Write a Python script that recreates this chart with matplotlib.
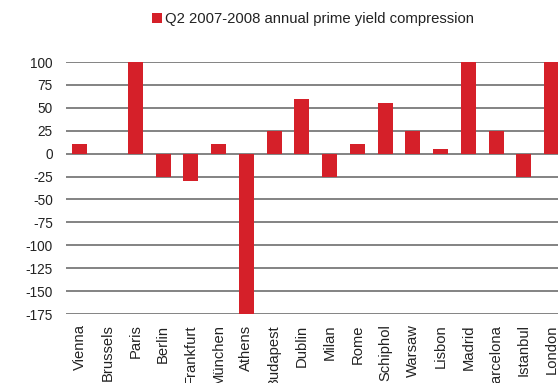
import matplotlib.pyplot as plt
import numpy as np

plt.rcParams['font.family'] = ['Liberation Sans', 'DejaVu Sans']
plt.rcParams['axes.unicode_minus'] = False

cities = ['Vienna', 'Brussels', 'Paris', 'Berlin', 'Frankfurt', 'München', 'Athens',
          'Budapest', 'Dublin', 'Milan', 'Rome', 'Schiphol', 'Warsaw', 'Lisbon',
          'Madrid', 'Barcelona', 'Istanbul', 'London']
compression = [10, 0, 100, -25, -30, 10, -175, 25, 60, -25, 10, 55, 25, 5, 100, 25, -25, 100]
yticks = [100, 75, 50, 25, 0, -25, -50, -75, -100, -125, -150, -175]

red = '#d52029'
fig = plt.figure(figsize=(5.58, 3.83), dpi=100)
# axes run past the right edge like the original (London slot is clipped)
ax = fig.add_axes([66 / 558, 69 / 383, 499.5 / 558, 252 / 383])

x = np.arange(len(cities))
ax.bar(x, compression, width=0.54, color=red, zorder=3,
       label='Q2 2007-2008 annual prime yield compression')

ax.set_ylim(-175, 100)
ax.set_yticks(yticks)
ax.set_xlim(-0.5, len(cities) - 0.5)
ax.set_xticks(x)
ax.set_xticklabels(cities, rotation=90, fontsize=10.6, color='#222222')
ax.tick_params(axis='y', labelsize=9.8, colors='#222222', length=0, pad=9.5)
ax.tick_params(axis='x', length=0, pad=7.5)
ax.yaxis.grid(True, color='#7a7a7a', linewidth=1.3, zorder=0)
for s in ax.spines.values():
    s.set_visible(False)

fig.legend(loc='center', bbox_to_anchor=(313 / 558, 1 - 19 / 383), frameon=False,
           fontsize=10.7, handlelength=0.72, handleheight=0.72, handletextpad=0.2,
           labelcolor='#222222')

fig.savefig('out.png', dpi=100)
